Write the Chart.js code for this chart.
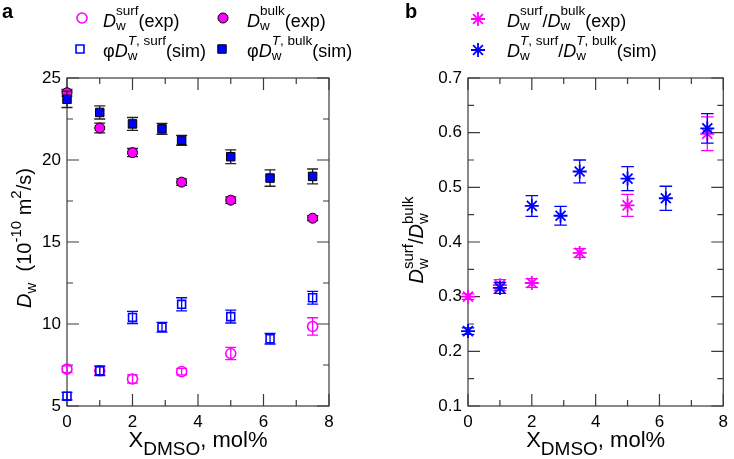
<!DOCTYPE html>
<html>
<head>
<meta charset="utf-8">
<script src="https://cdn.jsdelivr.net/npm/chart.js@4.4.1/dist/chart.umd.min.js"></script>
<style>
  body { margin: 0; background: #fff; }
  #wrap { position: relative; width: 734px; height: 459px; }
  canvas { position: absolute; top: 0; }
</style>
</head>
<body>
<div id="wrap">
  <canvas id="chartA" width="367" height="459" style="left:0"></canvas>
  <canvas id="chartB" width="367" height="459" style="left:367px"></canvas>
</div>
<script>
// concentraciones (mol%)
const xExp = [0, 1, 2, 3.5, 5, 7.5];
const xSim = [0, 1, 2, 2.9, 3.5, 5, 6.2, 7.5];

// panel a: coeficientes de difusion (10^-10 m2/s)
const surfExp    = [7.25, 7.15, 6.65, 7.1, 8.2, 9.85];
const surfExpErr = [0.2, 0.25, 0.25, 0.2, 0.37, 0.53];
const bulkExp    = [24.1, 21.95, 20.45, 18.65, 17.55, 16.45];
const bulkExpErr = [0.2, 0.3, 0.25, 0.2, 0.2, 0.15];
const surfSim    = [5.6, 7.15, 10.4, 9.8, 11.2, 10.45, 9.1, 11.6];
const surfSimErr = [0.23, 0.3, 0.37, 0.3, 0.4, 0.39, 0.32, 0.39];
const bulkSim    = [23.7, 22.9, 22.2, 21.9, 21.2, 20.2, 18.9, 19.0];
const bulkSimErr = [0.5, 0.4, 0.39, 0.33, 0.3, 0.42, 0.5, 0.45];

// panel b: cociente surf/bulk
const ratioExp    = [0.30, 0.321, 0.325, 0.38, 0.467, 0.598];
const ratioExpErr = [0.005, 0.01, 0.008, 0.008, 0.02, 0.031];
const ratioSim    = [0.237, 0.316, 0.466, 0.448, 0.529, 0.516, 0.48, 0.608];
const ratioSimErr = [0.006, 0.01, 0.019, 0.017, 0.021, 0.022, 0.022, 0.027];

// ticks
const xTicks = [0, 2, 4, 6, 8];
const yTicksA = [5, 10, 15, 20, 25];
const yTicksB = [0.1, 0.2, 0.3, 0.4, 0.5, 0.6, 0.7];

const FAM = '"Liberation Sans", Arial, Helvetica, sans-serif';
const MAG = '#ff00ff', BLUE = '#0000ff', AX = '#3a3a3a';

function fnt(size, it, bold) {
  return (it ? 'italic ' : '') + (bold ? 'bold ' : '') + size + 'px ' + FAM;
}
function toPts(xs, ys) { return xs.map((x, i) => ({ x: x, y: ys[i] })); }

// texto con subindices / superindices
function runs(ctx, list, x, y, size, draw) {
  let w = 0;
  for (const r of [].concat(list)) {
    const o = typeof r === 'string' ? { t: r } : r;
    ctx.font = fnt(size, o.it);
    if (draw) ctx.fillText(o.t, x + w, y);
    w += ctx.measureText(o.t).width;
  }
  return w;
}
function rich(ctx, segs, x, y, st, draw) {
  let w = 0;
  for (const s of segs) {
    if (typeof s === 'object' && s.t === undefined) {
      let a = 0, b = 0;
      if (s.sub) a = runs(ctx, s.sub, x + w, y + st.drop, st.small, draw);
      if (s.sup) b = runs(ctx, s.sup, x + w, y - st.rise, st.small, draw);
      w += Math.max(a, b);
    } else {
      w += runs(ctx, s, x + w, y, st.size, draw);
    }
  }
  return w;
}
function richCentered(ctx, segs, cx, y, st) {
  const w = rich(ctx, segs, 0, 0, st, false);
  rich(ctx, segs, cx - w / 2, y, st, true);
}
function vTitle(ctx, segs, x, cy, st) {
  ctx.save();
  ctx.translate(x, cy);
  ctx.rotate(-Math.PI / 2);
  richCentered(ctx, segs, 0, 0, st);
  ctx.restore();
}
function sym(ctx, o, x, y) {
  ctx.save();
  ctx.fillStyle = o.fill || 'rgba(0,0,0,0)';
  ctx.strokeStyle = o.stroke;
  ctx.lineWidth = o.bw;
  Chart.helpers.drawPoint(ctx, { pointStyle: o.style, radius: o.r, borderWidth: o.bw, rotation: 0 }, x, y);
  ctx.restore();
}

const LEG = { size: 18, small: 13.5, rise: 12, drop: 3 };
const YTA = { size: 20, small: 15, rise: 10, drop: 5 };
const YTB = { size: 20, small: 15, rise: 10, drop: 5 };
const XT = { size: 22, small: 19, rise: 10, drop: 8 };

const Dw = (sup) => [{ t: 'D', it: true }, { sub: 'w', sup: sup }];
const legA = [
  Dw('surf').concat(['(exp)']),
  Dw('bulk').concat(['(exp)']),
  ['\u03c6'].concat(Dw([{ t: 'T', it: true }, ', surf']), ['(sim)']),
  ['\u03c6'].concat(Dw([{ t: 'T', it: true }, ', bulk']), ['(sim)'])
];
const legB = [
  Dw('surf').concat(['/'], Dw('bulk'), ['(exp)']),
  Dw([{ t: 'T', it: true }, ', surf']).concat(['/'], Dw([{ t: 'T', it: true }, ', bulk']), ['(sim)'])
];
const yTitleA = [{ t: 'D', it: true }, { sub: 'w' }, '  (10', { sup: '-10' }, ' m', { sup: '2' }, '/s)'];
const yTitleB = Dw('surf').concat(['/'], Dw('bulk'));
const xTitle = ['X', { sub: 'DMSO' }, ', mol%'];

// barras de error, dibujadas justo antes de cada serie
const errorBars = {
  id: 'errorBars',
  beforeDatasetDraw(chart, args) {
    const ds = chart.data.datasets[args.index];
    if (!ds.err) return;
    const ctx = chart.ctx, sx = chart.scales.x, sy = chart.scales.y;
    ctx.save();
    ctx.strokeStyle = ds.errColor;
    ctx.lineWidth = 1.3;
    ds.data.forEach((p, i) => {
      const px = sx.getPixelForValue(p.x);
      const y1 = sy.getPixelForValue(p.y + ds.err[i]);
      const y2 = sy.getPixelForValue(p.y - ds.err[i]);
      ctx.beginPath();
      ctx.moveTo(px, y1); ctx.lineTo(px, y2);
      ctx.moveTo(px - ds.cap, y1); ctx.lineTo(px + ds.cap, y1);
      ctx.moveTo(px - ds.cap, y2); ctx.lineTo(px + ds.cap, y2);
      ctx.stroke();
    });
    ctx.restore();
  }
};

// marco con ticks hacia dentro en los cuatro lados
function frame(xMinor, xMajor, yMinor, yMajor) {
  const isMajor = (v, m) => Math.abs(v / m - Math.round(v / m)) < 1e-6;
  return {
    id: 'frame',
    beforeDatasetsDraw(chart) {
      const ctx = chart.ctx, a = chart.chartArea, sx = chart.scales.x, sy = chart.scales.y;
      ctx.save();
      ctx.strokeStyle = AX;
      ctx.lineWidth = 1.2;
      ctx.strokeRect(a.left, a.top, a.right - a.left, a.bottom - a.top);
      ctx.beginPath();
      for (let k = 0; sx.min + k * xMinor <= sx.max + 1e-9; k++) {
        const v = sx.min + k * xMinor, p = sx.getPixelForValue(v);
        const len = isMajor(v, xMajor) ? 12 : 6;
        ctx.moveTo(p, a.bottom); ctx.lineTo(p, a.bottom - len);
        ctx.moveTo(p, a.top); ctx.lineTo(p, a.top + len);
      }
      for (let k = 0; sy.min + k * yMinor <= sy.max + 1e-9; k++) {
        const v = sy.min + k * yMinor, p = sy.getPixelForValue(v);
        const len = isMajor(v, yMajor) ? 12 : 6;
        ctx.moveTo(a.left, p); ctx.lineTo(a.left + len, p);
        ctx.moveTo(a.right, p); ctx.lineTo(a.right - len, p);
      }
      ctx.stroke();
      ctx.restore();
    }
  };
}

function baseOptions(yTicks, yWidth, padRight, fmt) {
  return {
    responsive: false,
    animation: false,
    devicePixelRatio: 1,
    events: [],
    layout: { padding: { top: 78, right: padRight, left: 0, bottom: 0 } },
    plugins: { legend: { display: false }, tooltip: { enabled: false } },
    scales: {
      x: {
        type: 'linear', min: xTicks[0], max: xTicks[xTicks.length - 1],
        afterBuildTicks: s => { s.ticks = xTicks.map(v => ({ value: v })); },
        afterFit: s => { s.height = 53; },
        grid: { display: false, drawTicks: false },
        border: { display: false },
        ticks: { font: { size: 17, family: FAM }, color: '#000', padding: 6, maxRotation: 0, autoSkip: false }
      },
      y: {
        type: 'linear', min: yTicks[0], max: yTicks[yTicks.length - 1],
        afterBuildTicks: s => { s.ticks = yTicks.map(v => ({ value: v })); },
        afterFit: s => { s.width = yWidth; },
        grid: { display: false, drawTicks: false },
        border: { display: false },
        ticks: { font: { size: 17, family: FAM }, color: '#000', padding: 6, autoSkip: false, callback: fmt }
      }
    }
  };
}

// panel a
new Chart(document.getElementById('chartA'), {
  type: 'scatter',
  data: {
    datasets: [
      { data: toPts(xSim, bulkSim), err: bulkSimErr, errColor: '#222', cap: 5.5, clip: false,
        pointStyle: 'rect', pointRadius: 6, pointBackgroundColor: BLUE, pointBorderColor: '#000', pointBorderWidth: 1 },
      { data: toPts(xExp, bulkExp), err: bulkExpErr, errColor: '#222', cap: 5.5, clip: false,
        pointStyle: 'circle', pointRadius: 5, pointBackgroundColor: MAG, pointBorderColor: '#000', pointBorderWidth: 1 },
      { data: toPts(xSim, surfSim), err: surfSimErr, errColor: BLUE, cap: 5.5, clip: false,
        pointStyle: 'rect', pointRadius: 5.6, pointBackgroundColor: 'rgba(0,0,0,0)', pointBorderColor: BLUE, pointBorderWidth: 1.6 },
      { data: toPts(xExp, surfExp), err: surfExpErr, errColor: MAG, cap: 5.5, clip: false,
        pointStyle: 'circle', pointRadius: 5, pointBackgroundColor: 'rgba(0,0,0,0)', pointBorderColor: MAG, pointBorderWidth: 1.6 }
    ]
  },
  options: baseOptions(yTicksA, 67, 38),
  plugins: [frame(1, 2, 2.5, 5), errorBars, {
    id: 'decoA',
    afterDraw(chart) {
      const ctx = chart.ctx, a = chart.chartArea;
      ctx.save();
      ctx.fillStyle = '#000';
      ctx.font = fnt(20, false, true);
      ctx.fillText('a', 2, 18);
      sym(ctx, { style: 'circle', r: 5, bw: 1.6, stroke: MAG }, 82, 18);
      rich(ctx, legA[0], 103, 27, LEG, true);
      sym(ctx, { style: 'circle', r: 5, bw: 1, stroke: '#000', fill: MAG }, 223, 18);
      rich(ctx, legA[1], 247, 27, LEG, true);
      sym(ctx, { style: 'rect', r: 5.6, bw: 1.6, stroke: BLUE }, 80, 49);
      rich(ctx, legA[2], 103, 57, LEG, true);
      sym(ctx, { style: 'rect', r: 6, bw: 1, stroke: '#000', fill: BLUE }, 222, 49);
      rich(ctx, legA[3], 247, 57, LEG, true);
      vTitle(ctx, yTitleA, 31, 238, YTA);
      richCentered(ctx, xTitle, (a.left + a.right) / 2, 447, XT);
      ctx.restore();
    }
  }]
});

// panel b
new Chart(document.getElementById('chartB'), {
  type: 'scatter',
  data: {
    datasets: [
      { data: toPts(xSim, ratioSim), err: ratioSimErr, errColor: BLUE, cap: 6.3, clip: false,
        pointStyle: 'star', pointRadius: 7, pointBorderColor: BLUE, pointBorderWidth: 1.8 },
      { data: toPts(xExp, ratioExp), err: ratioExpErr, errColor: MAG, cap: 6.3, clip: false,
        pointStyle: 'star', pointRadius: 7, pointBorderColor: MAG, pointBorderWidth: 1.8 }
    ]
  },
  options: baseOptions(yTicksB, 101, 4, v => v.toFixed(1)),
  plugins: [frame(1, 2, 0.05, 0.1), errorBars, {
    id: 'decoB',
    afterDraw(chart) {
      const ctx = chart.ctx, a = chart.chartArea;
      ctx.save();
      ctx.fillStyle = '#000';
      ctx.font = fnt(20, false, true);
      ctx.fillText('b', 38, 18);
      sym(ctx, { style: 'star', r: 7, bw: 1.8, stroke: MAG }, 111, 19);
      rich(ctx, legB[0], 140, 27, LEG, true);
      sym(ctx, { style: 'star', r: 7, bw: 1.8, stroke: BLUE }, 111, 50);
      rich(ctx, legB[1], 140, 57, LEG, true);
      vTitle(ctx, yTitleB, 56, 240, YTB);
      richCentered(ctx, xTitle, (a.left + a.right) / 2, 447, XT);
      ctx.restore();
    }
  }]
});
</script>
</body>
</html>
